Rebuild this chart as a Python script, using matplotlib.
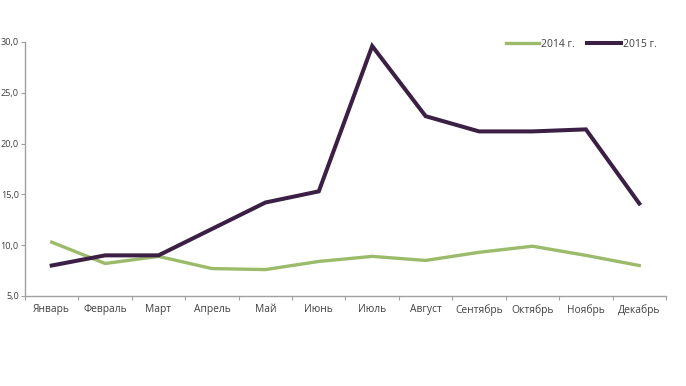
import matplotlib
matplotlib.use("Agg")
import matplotlib.pyplot as plt
from matplotlib.ticker import FixedLocator

plt.rcParams['font.family'] = ['Open Sans', 'DejaVu Sans']

months = ["Январь", "Февраль", "Март", "Апрель", "Май", "Июнь",
          "Июль", "Август", "Сентябрь", "Октябрь", "Ноябрь", "Декабрь"]
values_2014 = [10.3, 8.2, 8.9, 7.7, 7.6, 8.4, 8.9, 8.5, 9.3, 9.9, 9.0, 8.0]
values_2015 = [8.0, 9.0, 9.0, 11.6, 14.2, 15.3, 29.6, 22.7, 21.2, 21.2, 21.4, 14.1]
yticks = [5, 10, 15, 20, 25, 30]
ytick_labels = ["5,0", "10,0", "15,0", "20,0", "25,0", "30,0"]
series_labels = ["2014 г.", "2015 г."]

fig = plt.figure(figsize=(6.86, 3.86), dpi=100)
ax = fig.add_axes([25/686, 1 - 296/386, (666 - 25)/686, (296 - 42)/386])

x = list(range(len(months)))
ax.plot(x, values_2014, color='#9BBB6A', lw=2.4, label=series_labels[0], solid_joinstyle='miter')
ax.plot(x, values_2015, color='#3B1F44', lw=2.9, label=series_labels[1], solid_joinstyle='miter')

ax.set_xlim(-0.5, len(months) - 0.5)
ax.set_ylim(5, 30)
ax.set_yticks(yticks)
ax.set_yticklabels(ytick_labels)
ax.set_xticks(x)
ax.set_xticklabels(months)
ax.xaxis.set_minor_locator(FixedLocator([i + 0.5 for i in range(-1, len(months))]))
ax.tick_params(axis='x', which='major', length=0, pad=6, labelsize=7.4, labelcolor='#404040')
ax.tick_params(axis='x', which='minor', length=3, width=0.8, color='#A0A0A0', direction='out')
ax.tick_params(axis='y', length=3, width=0.8, color='#A0A0A0', pad=1.5, labelsize=6.6, labelcolor='#404040')

for s in ['top', 'right']:
    ax.spines[s].set_visible(False)
for s in ['left', 'bottom']:
    ax.spines[s].set_color('#A0A0A0')
    ax.spines[s].set_linewidth(1.0)

leg = ax.legend(loc='upper right', bbox_to_anchor=(1.0, 1.05), ncol=2, frameon=False,
                fontsize=7.5, handlelength=3.2, handletextpad=0.2, columnspacing=1.2,
                labelcolor='#404040')

fig.savefig('out.png', dpi=100)
